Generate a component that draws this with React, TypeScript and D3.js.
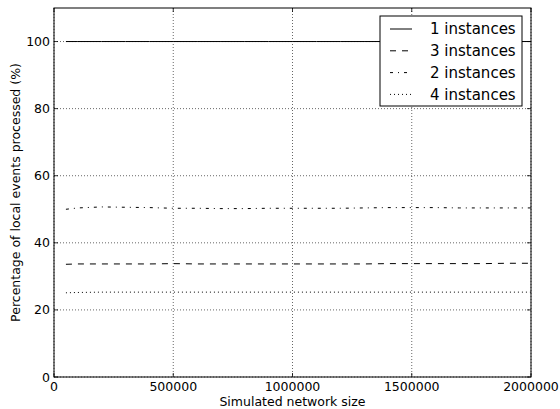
import React from "react";
import * as d3 from "d3";

const xValues = [50000, 100000, 200000, 300000, 400000, 500000, 600000, 700000, 800000, 900000, 1000000, 1100000, 1200000, 1300000, 1400000, 1500000, 1600000, 1700000, 1800000, 1900000, 2000000];
const inst1 = [100, 100, 100, 100, 100, 100, 100, 100, 100, 100, 100, 100, 100, 100, 100, 100, 100, 100, 100, 100, 100];
const inst3 = [33.6, 33.7, 33.7, 33.7, 33.7, 33.8, 33.7, 33.7, 33.7, 33.7, 33.7, 33.7, 33.7, 33.7, 33.8, 33.8, 33.8, 33.8, 33.8, 33.9, 33.9];
const inst2 = [50.0, 50.4, 50.7, 50.6, 50.5, 50.3, 50.3, 50.2, 50.2, 50.3, 50.3, 50.3, 50.3, 50.4, 50.5, 50.5, 50.5, 50.4, 50.4, 50.4, 50.4];
const inst4 = [25.1, 25.2, 25.3, 25.3, 25.3, 25.3, 25.3, 25.3, 25.3, 25.3, 25.3, 25.3, 25.3, 25.3, 25.3, 25.3, 25.3, 25.3, 25.3, 25.3, 25.3];

const seriesNames = ["1 instances", "3 instances", "2 instances", "4 instances"];
const seriesValues = [inst1, inst3, inst2, inst4];
const seriesDash = ["none", "6,6", "3,5,1,5", "1,3"];

const xTicks = [0, 500000, 1000000, 1500000, 2000000];
const yTicks = [0, 20, 40, 60, 80, 100];

const W = 560, H = 409;
const L = 54, R = 531, T = 8, B = 377;
const FONT = "DejaVu Sans, sans-serif";

export default function App() {
  const x = d3.scaleLinear().domain([0, 2000000]).range([L, R]);
  const y = d3.scaleLinear().domain([0, 110]).range([B, T]);
  const line = d3.line<number>().x((_, i) => x(xValues[i])).y((d) => y(d));

  return (
    <svg width={W} height={H} style={{ position: "absolute", left: 0, top: 0, background: "#fff" }}>
      <rect x={0} y={0} width={W} height={H} fill="#fff" />
      {xTicks.map((t) => (
        <line key={"gx" + t} x1={x(t)} x2={x(t)} y1={T} y2={B} stroke="#000" strokeWidth={0.6} strokeDasharray="1,2" />
      ))}
      {yTicks.map((t) => (
        <line key={"gy" + t} x1={L} x2={R} y1={y(t)} y2={y(t)} stroke="#000" strokeWidth={0.6} strokeDasharray="1,2" />
      ))}
      {seriesValues.map((vals, i) => (
        <path key={"s" + i} d={line(vals) || ""} fill="none" stroke="#000" strokeWidth={1} strokeDasharray={seriesDash[i]} />
      ))}
      <rect x={L} y={T} width={R - L} height={B - T} fill="none" stroke="#000" strokeWidth={1} />
      {xTicks.map((t) => (
        <g key={"tx" + t}>
          <line x1={x(t)} x2={x(t)} y1={B} y2={B - 4} stroke="#000" strokeWidth={0.8} />
          <line x1={x(t)} x2={x(t)} y1={T} y2={T + 4} stroke="#000" strokeWidth={0.8} />
          <text x={x(t)} y={391} textAnchor="middle" fontFamily={FONT} fontSize={12.5}>{t}</text>
        </g>
      ))}
      {yTicks.map((t) => (
        <g key={"ty" + t}>
          <line x1={L} x2={L + 4} y1={y(t)} y2={y(t)} stroke="#000" strokeWidth={0.8} />
          <line x1={R} x2={R - 4} y1={y(t)} y2={y(t)} stroke="#000" strokeWidth={0.8} />
          <text x={L - 4} y={y(t)} dy="0.36em" textAnchor="end" fontFamily={FONT} fontSize={12.5}>{t}</text>
        </g>
      ))}
      <text x={(L + R) / 2} y={406} textAnchor="middle" fontFamily={FONT} fontSize={12.5}>Simulated network size</text>
      <text transform={`translate(20,${(T + B) / 2}) rotate(-90)`} textAnchor="middle" fontFamily={FONT} fontSize={12.5}>Percentage of local events processed (%)</text>
      <rect x={380} y={16} width={142} height={90} fill="#fff" stroke="#000" strokeWidth={1} />
      {seriesNames.map((n, i) => {
        const yy = 29 + i * 21.8;
        return (
          <g key={"lg" + i}>
            <line x1={390} x2={412} y1={yy} y2={yy} stroke="#000" strokeWidth={1} strokeDasharray={seriesDash[i]} />
            <text x={430} y={yy} dy="0.36em" fontFamily={FONT} fontSize={15}>{n}</text>
          </g>
        );
      })}
    </svg>
  );
}
